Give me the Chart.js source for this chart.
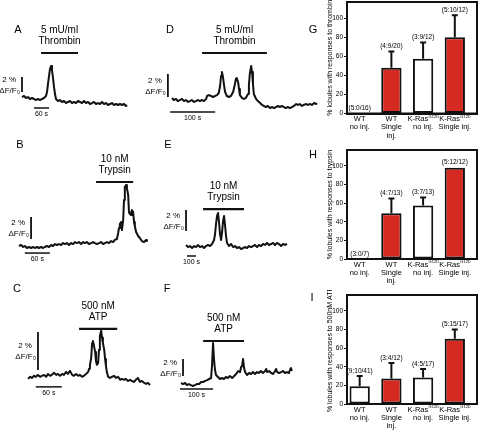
<!DOCTYPE html>
<html>
<head>
<meta charset="utf-8">
<script src="https://cdn.jsdelivr.net/npm/chart.js@4.4.1/dist/chart.umd.min.js"></script>
<style>
  body { margin: 0; background: #fff; }
  #fig { position: relative; width: 480px; height: 433px; overflow: hidden; }
  #fig canvas { position: absolute; }
  .letter { position: absolute; width: 20px; text-align: center; line-height: 13px;
            font: 11px "Liberation Sans", Arial, sans-serif; color: #000; }
</style>
</head>
<body>
<div id="fig">
  <canvas id="panelA" width="165" height="140" style="left:0;top:0"></canvas>
  <canvas id="panelD" width="180" height="140" style="left:140px;top:0"></canvas>
  <canvas id="panelB" width="165" height="150" style="left:0;top:140px"></canvas>
  <canvas id="panelE" width="170" height="150" style="left:150px;top:140px"></canvas>
  <canvas id="panelC" width="165" height="143" style="left:0;top:290px"></canvas>
  <canvas id="panelF" width="170" height="143" style="left:150px;top:290px"></canvas>
  <canvas id="panelG" width="160" height="145" style="left:320px;top:0"></canvas>
  <canvas id="panelH" width="160" height="145" style="left:320px;top:145px"></canvas>
  <canvas id="panelI" width="160" height="143" style="left:320px;top:290px"></canvas>

  <div class="letter" style="left:8px;top:23px">A</div>
  <div class="letter" style="left:160px;top:23px">D</div>
  <div class="letter" style="left:303px;top:23px">G</div>
  <div class="letter" style="left:10px;top:138px">B</div>
  <div class="letter" style="left:158px;top:138px">E</div>
  <div class="letter" style="left:303px;top:148px">H</div>
  <div class="letter" style="left:7px;top:282px">C</div>
  <div class="letter" style="left:157px;top:282px">F</div>
  <div class="letter" style="left:302px;top:291px">I</div>
</div>
<script>
// traces: time in s, signal in % dF/F0
const aTime = [0,8,16,24,32,40,48,56,64,72,80,88,96,100,104,108,112,116,120,124,128,132,136,144,152,160,168,176,184,192,200,208,216,224,232,240,248,256,264,272,280,288,296,304,312,320,328,336,344,352,360,368,376,384,392,400,408,416,420];
const aSignal = [0.13,0.27,0,0.13,-0.13,0,-0.13,-0.27,-0.13,-0.27,-0.13,0,0.27,
  0.8,1.87,2.93,3.87,4.27,3.73,2.67,1.47,0.53,-0.13,
  -0.4,-0.27,-0.53,-0.4,-0.67,-0.53,-0.4,-0.67,-0.53,-0.67,-0.4,-0.53,-0.67,-0.4,-0.67,-0.53,-0.8,-0.67,-0.53,-0.8,-0.67,-0.8,-0.53,-0.8,-0.67,-0.93,-0.8,-0.67,-0.93,-0.8,-0.93,-0.8,-0.93,-0.8,-1.07,
  -0.93];

const dTime = [0,4,9,13,18,22,27,31,36,40,44,49,53,58,62,67,71,76,78,82,87,91,96,100,104,107,109,111,113,116,118,122,127,131,136,140,142,144,147,149,151,156,160,164,169,171,173,176,178,180,182,187,191,196,200,204,209,213,218,222,227,231,236,240,244,249,253,258,262,267,271,276,280,284,289,293,298,302,307,311,316,320,322];
const dSignal = [0.17,0,0.09,-0.09,0,0.09,-0.09,0,-0.17,-0.09,0,-0.17,-0.09,0,-0.09,0,-0.09,0.09,
  0.35,0.43,0.35,0.26,0.35,0.43,0.61,1.22,2.09,2.43,2.09,1.22,0.70,0.35,0.26,0.35,0.70,
  1.39,1.83,1.91,1.57,0.96,0.43,0.17,0.09,0.17,0.52,1.30,2.26,2.96,2.43,1.39,0.52,
  0.09,-0.09,-0.26,-0.43,-0.52,-0.61,-0.52,-0.70,-0.61,-0.70,-0.61,-0.52,-0.61,-0.52,-0.61,-0.70,-0.61,-0.70,-0.61,-0.52,-0.35,-0.43,-0.35,-0.52,-0.43,-0.35,-0.43,-0.35,-0.43,-0.26,-0.35,-0.26];

const bTime = [0,5,10,14,19,24,29,34,38,43,48,53,58,62,67,72,77,82,86,91,96,101,106,110,115,120,125,130,134,139,144,149,154,158,163,168,173,178,182,187,192,197,202,206,211,216,221,226,230,235,
  238,240,242,245,247,250,252,254,257,259,262,264,266,269,271,274,276,278,281,286,290,295,300,305,307];
const bSignal = [0,0.09,-0.09,0,-0.18,-0.09,-0.18,-0.09,-0.18,-0.09,
  -0.18,-0.09,-0.18,-0.09,0,-0.09,0.09,0,0.18,0.09,
  0.18,0.09,0.27,0.18,0.27,0.09,0.27,0.18,0.36,0.27,
  0.36,0.18,0.36,0.27,0.36,0.18,0.27,0.36,0.27,0.18,
  0.27,0.36,0.18,0.27,0.36,0.27,0.45,0.36,0.55,0.64,
  1.18,1.64,2.0,2.18,1.45,2.36,4.18,5.36,5.55,5.27,4.64,3.09,2.91,2.82,3.27,3.09,2.18,1.82,1.27,
  0.91,0.73,0.45,0.36,0.55,0.45];

const eTime = [0,22,44,67,89,111,133,155,178,200,222,244,266,289,
  300,311,322,333,344,355,366,377,389,400,411,422,433,444,455,
  477,500,522,544,566,588,611,633,655,677,699,722,744,766,788,810,833,855,877,899,921,944,966,988,1010,1032,1055,1077,1099,1121];
const eSignal = [0.1,-0.1,0,-0.19,0,-0.1,0.1,-0.1,0,-0.19,0,0.1,0,0.19,
  0.38,0.57,1.14,2.1,2.86,3.14,2.29,1.14,0.57,1.33,2.38,2.86,2.0,0.95,0.29,
  0,0.19,-0.1,0,-0.19,-0.1,-0.29,-0.19,-0.1,-0.19,0,-0.1,0,0.1,-0.1,0.1,0,0.19,0.1,0.29,0.1,0.19,0.29,0.1,0.29,0.19,0,0.19,0.1,0.19];

const cTime = [0,5,9,14,18,23,28,32,37,42,46,51,55,60,65,69,74,79,83,88,92,97,102,106,111,116,120,125,129,134,139,
  141,143,146,148,150,152,155,157,159,162,164,166,169,171,173,176,178,180,182,185,
  189,194,199,203,208,213,217,222,226,231,236,240,245,249,254,
  256,259,263,268,273,277,282];
const cSignal = [0,0.11,0.05,0.16,0.11,0.21,0.11,0.16,0.21,0.11,
  0.26,0.16,0.21,0.32,0.21,0.26,0.16,0.26,0.21,0.37,
  0.26,0.42,0.21,0.16,0.26,0.16,0.21,0.11,0.16,0.26,0.37,
  0.53,0.74,1.11,1.89,2.0,1.79,1.42,0.95,0.74,0.84,1.53,2.26,2.53,2.16,1.89,1.53,1.05,0.68,0.37,0.11,
  0.05,0.11,0.16,0.05,0.11,-0.05,0,-0.05,0,-0.11,-0.05,-0.11,-0.16,-0.05,0.05,
  -0.05,-0.16,-0.11,-0.21,-0.26,-0.21,-0.32];

const fTime = [0,6,12,18,24,30,36,42,48,55,61,67,73,79,85,91,
  94,97,100,103,106,
  112,118,124,130,136,142,148,155,161,167,173,179,
  182,185,188,191,194,
  200,206,212,218,224,230,236,242,248,255,
  258,261,267,273,279,285,288,291,297,303,309,315,321,327,330,333,336];
const fSignal = [0,-0.12,0,-0.24,-0.12,-0.24,-0.35,-0.24,-0.12,-0.12,0.12,0.12,0.24,0.35,0.47,0.59,
  2.12,4.71,2.71,1.53,0.94,
  0.71,0.47,0.59,0.47,0.71,0.59,0.82,0.59,0.82,1.06,1.41,1.29,
  1.88,2.0,2.82,1.76,1.29,
  0.94,1.18,1.06,1.29,1.06,1.29,1.18,1.41,1.18,1.41,
  1.65,1.29,1.41,1.18,1.06,1.41,1.65,1.29,1.18,1.29,1.41,1.18,1.29,1.18,1.53,1.76,1.41];

// bar panels ("^" marks the superscript part of a label)
const groupLabels = [["WT", "no inj."], ["WT", "Single", "inj."], ["K-Ras^G12D", "no inj."], ["K-Ras^G12D", "Single inj."]];
const thrombinPct = [0, 48, 57.5, 80];
const thrombinSem = [0, 17, 17, 23];
const thrombinCounts = ["(5:0/16)", "(4:9/20)", "(3:9/12)", "(5:10/12)"];
const trypsinPct = [0, 49, 57.5, 98];
const trypsinSem = [0, 16, 8.5, 0];
const trypsinCounts = ["(3:0/7)", "(4:7/13)", "(3:7/13)", "(5:12/12)"];
const atpPct = [19, 27.5, 28.5, 70];
const atpSem = [11, 16.5, 9, 10];
const atpCounts = ["(9:10/41)", "(3:4/12)", "(4:5/17)", "(5:15/17)"];

const FONT = '"Liberation Sans", Arial, Helvetica, sans-serif';
const INK = '#111';
const RED = '#d42a22';
Chart.defaults.font.family = FONT;
Chart.defaults.color = '#000';

function points(times, values) {
    return times.map((t, i) => ({ x: t, y: values[i] }));
}

// stimulus text, scale bar text and time bar text
function traceLabels(p) {
    return {
        id: 'traceLabels',
        afterDatasetsDraw(chart) {
            let { ctx, scales: { x, y } } = chart;
            ctx.save();
            ctx.fillStyle = '#000';
            ctx.textAlign = 'center';
            ctx.textBaseline = 'middle';

            let sx = x.getPixelForValue((p.stim[0] + p.stim[1]) / 2);
            let sy = y.getPixelForValue(p.stim[2]);
            ctx.font = '10px ' + FONT;
            ctx.fillText(p.stimText[0], sx, sy - 23);
            ctx.fillText(p.stimText[1], sx, sy - 12);

            let bx = x.getPixelForValue(p.vbar[0]);
            let vy = (y.getPixelForValue(p.vbar[1]) + y.getPixelForValue(p.vbar[1] + 2)) / 2;
            ctx.font = '8px ' + FONT;
            ctx.textAlign = 'right';
            ctx.fillText('2 %', bx - 6, vy - 5);
            ctx.fillText('ΔF/F₀', bx - 2, vy + 6);

            ctx.textAlign = 'center';
            ctx.font = '7px ' + FONT;
            ctx.fillText(p.tbarText, x.getPixelForValue((p.tbar[0] + p.tbar[1]) / 2), y.getPixelForValue(p.tbar[2]) + 6);
            ctx.restore();
        }
    };
}

function drawTrace(id, times, values, p) {
    new Chart(document.getElementById(id), {
        type: 'line',
        data: {
            datasets: [
                { data: points(times, values), borderColor: INK, borderWidth: 2 },
                { data: [{ x: p.stim[0], y: p.stim[2] }, { x: p.stim[1], y: p.stim[2] }], borderColor: INK, borderWidth: 2.2 },
                { data: [{ x: p.vbar[0], y: p.vbar[1] }, { x: p.vbar[0], y: p.vbar[1] + 2 }], borderColor: INK, borderWidth: 1.8 },
                { data: [{ x: p.tbar[0], y: p.tbar[2] }, { x: p.tbar[1], y: p.tbar[2] }], borderColor: INK, borderWidth: 1.5 },
            ],
        },
        options: {
            responsive: false,
            animation: false,
            elements: { point: { radius: 0 }, line: { tension: 0, fill: false, borderJoinStyle: 'round' } },
            layout: { padding: 0 },
            scales: {
                x: { type: 'linear', display: false, min: p.x[0], max: p.x[1] },
                y: { type: 'linear', display: false, min: p.y[0], max: p.y[1] },
            },
            plugins: { legend: { display: false }, tooltip: { enabled: false } },
        },
        plugins: [traceLabels(p)],
    });
}

drawTrace('panelA', aTime, aSignal, {
    x: [-88, 572], y: [-5.6, 13.07],
    stim: [76, 224, 6.0], stimText: ['5 mU/ml', 'Thrombin'],
    vbar: [0, 0.8], tbar: [48, 108, -1.33], tbarText: '60 s',
});
drawTrace('panelD', dTime, dSignal, {
    x: [-71, 329], y: [-3.48, 8.70],
    stim: [67, 211, 4.09], stimText: ['5 mU/ml', 'Thrombin'],
    vbar: [-9, 0.26], tbar: [-4, 96, -1.04], tbarText: '100 s',
});
drawTrace('panelB', bTime, bSignal, {
    x: [-45.6, 350.4], y: [-4.0, 9.64],
    stim: [185, 274, 5.82], stimText: ['10 nM', 'Trypsin'],
    vbar: [29, 0.64], tbar: [14, 74, -0.64], tbarText: '60 s',
});
drawTrace('panelE', eTime, eSignal, {
    x: [-400, 1487], y: [-4.19, 10.1],
    stim: [189, 644, 3.52], stimText: ['10 nM', 'Trypsin'],
    vbar: [0, 1.43], tbar: [11, 111, -0.95], tbarText: '100 s',
});
drawTrace('panelC', cTime, cSignal, {
    x: [-64.7, 316.4], y: [-2.85, 4.68],
    stim: [118, 206, 2.63], stimText: ['500 nM', 'ATP'],
    vbar: [23, 0.47], tbar: [18, 78, -0.42], tbarText: '60 s',
});
drawTrace('panelF', fTime, fSignal, {
    x: [-94, 421], y: [-5.88, 10.94],
    stim: [67, 191, 4.94], stimText: ['500 nM', 'ATP'],
    vbar: [6, 0.82], tbar: [-3, 97, -0.71], tbarText: '100 s',
});

// error bars, n labels and the group names under the axis
function barLabels(sem, counts) {
    return {
        id: 'barLabels',
        afterDatasetsDraw(chart) {
            let { ctx } = chart;
            let x = chart.scales.x, y = chart.scales.y;
            let vals = chart.data.datasets[0].data.map(d => d.y);
            ctx.save();
            ctx.strokeStyle = INK;
            ctx.lineWidth = 2;
            ctx.fillStyle = '#000';
            ctx.textAlign = 'center';
            chart.getDatasetMeta(0).data.forEach((bar, i) => {
                let yTop = y.getPixelForValue(vals[i] + sem[i]);
                if (sem[i] > 0) {
                    ctx.beginPath();
                    ctx.moveTo(bar.x, y.getPixelForValue(vals[i]));
                    ctx.lineTo(bar.x, yTop);
                    ctx.moveTo(bar.x - 3, yTop);
                    ctx.lineTo(bar.x + 3, yTop);
                    ctx.stroke();
                }
                ctx.textBaseline = 'bottom';
                ctx.font = '6.5px ' + FONT;
                ctx.fillText(counts[i], bar.x, yTop - 2);
            });

            // group names
            ctx.textBaseline = 'middle';
            let y0 = y.getPixelForValue(0);
            groupLabels.forEach((lines, i) => {
                let cx = x.getPixelForValue(i);
                lines.forEach((line, k) => {
                    let ly = y0 + 5.5 + k * 8.3;
                    let [main, sup] = line.split('^');
                    ctx.font = '7.5px ' + FONT;
                    if (!sup) {
                        ctx.textAlign = 'center';
                        ctx.fillText(main, cx, ly);
                        return;
                    }
                    let wMain = ctx.measureText(main).width;
                    ctx.font = '4px ' + FONT;
                    let wSup = ctx.measureText(sup).width;
                    let left = cx - (wMain + wSup) / 2;
                    ctx.textAlign = 'left';
                    ctx.fillText(sup, left + wMain + 0.3, ly - 2.5);
                    ctx.font = '7.5px ' + FONT;
                    ctx.fillText(main, left, ly);
                });
            });
            ctx.restore();
        }
    };
}

const frame = {
    id: 'frame',
    afterDraw(chart) {
        let { ctx, chartArea: a } = chart;
        ctx.save();
        ctx.strokeStyle = INK;
        ctx.lineWidth = 2;
        ctx.strokeRect(a.left, a.top, a.right - a.left, a.bottom - a.top);
        ctx.restore();
    }
};

function drawBars(id, values, sem, counts, title, padTop, axisHeight) {
    new Chart(document.getElementById(id), {
        type: 'bar',
        data: {
            datasets: [{
                data: values.map((v, i) => ({ x: i, y: v })),
                backgroundColor: ['#ffffff', RED, '#ffffff', RED],
                borderColor: INK,
                borderWidth: 2,
                borderSkipped: false,
                barPercentage: 0.8,
                categoryPercentage: 0.8,
            }],
        },
        options: {
            responsive: false,
            animation: false,
            layout: { padding: { top: padTop, right: 3, left: 0, bottom: 0 } },
            plugins: { legend: { display: false }, tooltip: { enabled: false } },
            scales: {
                x: {
                    type: 'linear',
                    min: -0.4,
                    max: 3.7,
                    offset: false,
                    grid: { display: false },
                    border: { color: INK, width: 2 },
                    ticks: { display: false },
                    afterFit(s) { s.height = axisHeight; s.paddingLeft = 0; s.paddingRight = 0; },
                },
                y: {
                    min: 0,
                    max: 117,
                    ticks: { stepSize: 20, includeBounds: false, font: { size: 6.5 }, padding: 1, color: '#000' },
                    grid: { drawOnChartArea: false, drawTicks: true, tickLength: 3, color: INK },
                    border: { color: INK, width: 2 },
                    title: { display: true, text: title, font: { size: 7 }, padding: { top: 6, bottom: 0 }, color: '#000' },
                    afterFit(s) { s.width = 27; s.paddingTop = 0; s.paddingBottom = 0; },
                },
            },
        },
        plugins: [barLabels(sem, counts), frame],
    });
}

drawBars('panelG', thrombinPct, thrombinSem, thrombinCounts, '% lobules with responses to thrombin', 2, 31.5);
drawBars('panelH', trypsinPct, trypsinSem, trypsinCounts, '% lobules with responses to trypsin', 5, 31);
drawBars('panelI', atpPct, atpSem, atpCounts, '% lobules with responses to 500nM ATP', 5, 29);
</script>
</body>
</html>
